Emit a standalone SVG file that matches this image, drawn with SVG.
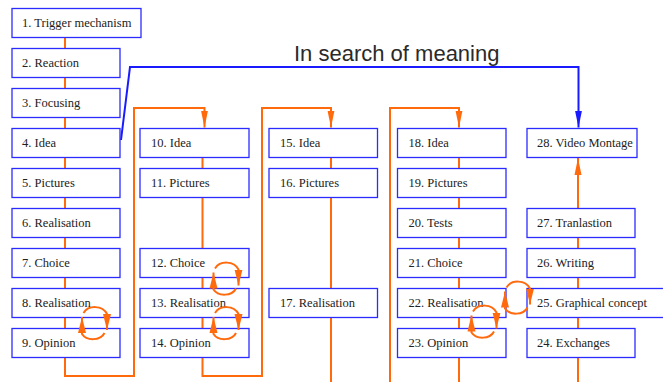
<svg xmlns="http://www.w3.org/2000/svg" xmlns:xlink="http://www.w3.org/1999/xlink" width="663" height="382" viewBox="0 0 663 382">
<style>
.box rect{fill:#fff;stroke:#2b2bff;stroke-width:1.3}
.box text{font-family:"Liberation Serif","Times New Roman",serif;font-size:12.5px;fill:#222}
.o{fill:none;stroke:#ff6a0d;stroke-width:2}
.b{fill:none;stroke:#1a1aff;stroke-width:2}
.title{font-family:"Liberation Sans",Arial,sans-serif;font-size:22px;fill:#2a2a2a}
</style>
<defs>
<marker id="ao" markerUnits="userSpaceOnUse" markerWidth="18" markerHeight="8" refX="17" refY="4" orient="auto" viewBox="0 0 18 8"><path d="M0,0.5 L17,4 L0,7.5 Z" fill="#ff6a0d"/></marker>
<marker id="ac" markerUnits="userSpaceOnUse" markerWidth="17" markerHeight="9" refX="16" refY="4.5" orient="auto" viewBox="0 0 17 9"><path d="M0,0.5 L16,4.5 L0,8.5 Z" fill="#ff6a0d"/></marker>
<marker id="ab" markerUnits="userSpaceOnUse" markerWidth="18" markerHeight="8" refX="17" refY="4" orient="auto" viewBox="0 0 18 8"><path d="M0,0.5 L17,4 L0,7.5 Z" fill="#1a1aff"/></marker>
<g id="cyc">
<path class="o" d="M-11,-10 C-6,-18 8,-18 12.5,-9 L12.5,7" marker-end="url(#ac)"/>
<path class="o" d="M10,10 C6,18 -8,18 -12.5,11 L-12.5,-6" marker-end="url(#ac)"/>
</g>
</defs>
<g id="connectors">
<path class="o" d="M65,37 V376 H134 V108 H204.5 V127.5" marker-end="url(#ao)"/>
<path class="o" d="M202.5,157 V376 H262 V108 H331 V127.5" marker-end="url(#ao)"/>
<path class="o" d="M331,157 V382"/>
<path class="o" d="M390,382 V108 H459 V127.5" marker-end="url(#ao)"/>
<path class="o" d="M459,157 V382"/>
<path class="o" d="M578,382 V158" marker-end="url(#ao)"/>
<path class="b" d="M121,140 L130,67 H578.5 V127.5" marker-end="url(#ab)"/>
</g>
<g id="n1" class="box"><rect x="12" y="8.5" width="129" height="29"/><text x="22" y="27">1. Trigger mechanism</text></g>
<g id="n2" class="box"><rect x="12" y="48.5" width="108" height="29"/><text x="22" y="67">2. Reaction</text></g>
<g id="n3" class="box"><rect x="12" y="88.5" width="108" height="29"/><text x="22" y="107">3. Focusing</text></g>
<g id="n4" class="box"><rect x="12" y="128.5" width="108" height="29"/><text x="22" y="147">4. Idea</text></g>
<g id="n5" class="box"><rect x="12" y="168.5" width="108" height="29"/><text x="22" y="187">5. Pictures</text></g>
<g id="n6" class="box"><rect x="12" y="208.5" width="108" height="29"/><text x="22" y="227">6. Realisation</text></g>
<g id="n7" class="box"><rect x="12" y="248.5" width="108" height="29"/><text x="22" y="267">7. Choice</text></g>
<g id="n8" class="box"><rect x="12" y="288.5" width="108" height="29"/><text x="22" y="307">8. Realisation</text></g>
<g id="n9" class="box"><rect x="12" y="328.5" width="108" height="29"/><text x="22" y="347">9. Opinion</text></g>
<g id="n10" class="box"><rect x="140" y="128.5" width="109" height="29"/><text x="151" y="147">10. Idea</text></g>
<g id="n11" class="box"><rect x="140" y="168.5" width="109" height="29"/><text x="151" y="187">11. Pictures</text></g>
<g id="n12" class="box"><rect x="140" y="248.5" width="109" height="29"/><text x="151" y="267">12. Choice</text></g>
<g id="n13" class="box"><rect x="140" y="288.5" width="109" height="29"/><text x="151" y="307">13. Realisation</text></g>
<g id="n14" class="box"><rect x="140" y="328.5" width="109" height="29"/><text x="151" y="347">14. Opinion</text></g>
<g id="n15" class="box"><rect x="269" y="128.5" width="108.5" height="29"/><text x="280" y="147">15. Idea</text></g>
<g id="n16" class="box"><rect x="269" y="168.5" width="108.5" height="29"/><text x="280" y="187">16. Pictures</text></g>
<g id="n17" class="box"><rect x="269" y="288.5" width="108.5" height="29"/><text x="280" y="307">17. Realisation</text></g>
<g id="n18" class="box"><rect x="397.5" y="128.5" width="108.5" height="29"/><text x="408.5" y="147">18. Idea</text></g>
<g id="n19" class="box"><rect x="397.5" y="168.5" width="108.5" height="29"/><text x="408.5" y="187">19. Pictures</text></g>
<g id="n20" class="box"><rect x="397.5" y="208.5" width="108.5" height="29"/><text x="408.5" y="227">20. Tests</text></g>
<g id="n21" class="box"><rect x="397.5" y="248.5" width="108.5" height="29"/><text x="408.5" y="267">21. Choice</text></g>
<g id="n22" class="box"><rect x="397.5" y="288.5" width="108.5" height="29"/><text x="408.5" y="307">22. Realisation</text></g>
<g id="n23" class="box"><rect x="397.5" y="328.5" width="108.5" height="29"/><text x="408.5" y="347">23. Opinion</text></g>
<g id="n28" class="box"><rect x="527" y="128.5" width="110" height="29"/><text x="537" y="147">28. Video Montage</text></g>
<g id="n27" class="box"><rect x="527" y="208.5" width="108" height="29"/><text x="537" y="227">27. Tranlastion</text></g>
<g id="n26" class="box"><rect x="527" y="248.5" width="108" height="29"/><text x="537" y="267">26. Writing</text></g>
<g id="n25" class="box"><rect x="527" y="288.5" width="145" height="29"/><text x="537" y="307">25. Graphical concept</text></g>
<g id="n24" class="box"><rect x="527" y="328.5" width="108" height="29"/><text x="537" y="347">24. Exchanges</text></g>
<g id="cycles">
<use xlink:href="#cyc" transform="translate(94.5,323)"/>
<use xlink:href="#cyc" transform="translate(226,278.5)"/>
<use xlink:href="#cyc" transform="translate(226,323)"/>
<use xlink:href="#cyc" transform="translate(484,321.5)"/>
<use xlink:href="#cyc" transform="translate(517.5,297.5)"/>
</g>
<text class="title" x="294" y="61">In search of meaning</text>
</svg>
